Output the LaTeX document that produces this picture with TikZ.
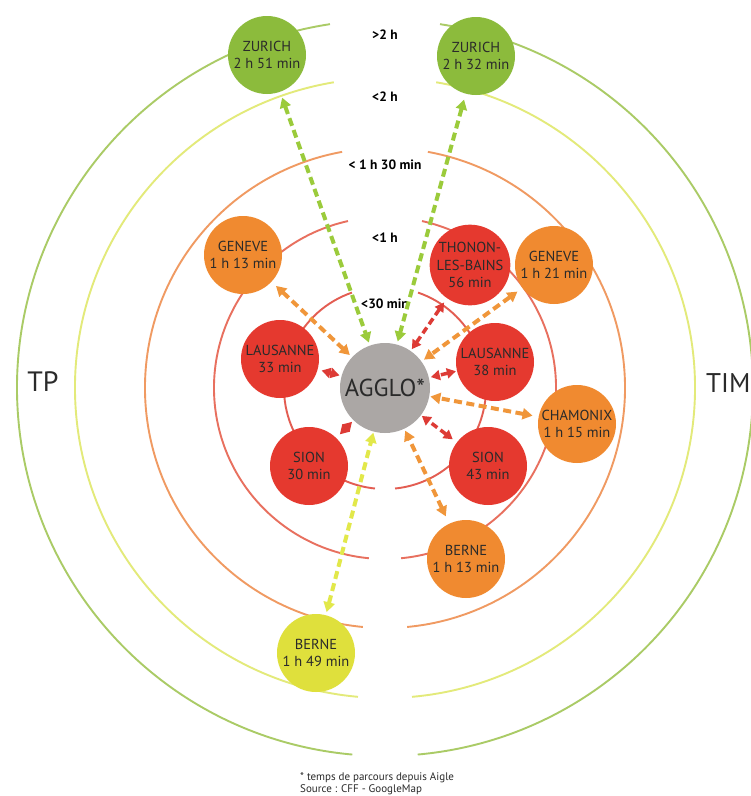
\documentclass[tikz,border=0pt]{standalone}
\usepackage{fontspec}
\setmainfont{PT Sans}
\usetikzlibrary{arrows.meta}
\definecolor{cRed}{HTML}{E5392F}
\definecolor{cOrange}{HTML}{F08A30}
\definecolor{cGreen}{HTML}{8CBB3C}
\definecolor{cYellow}{HTML}{DFE03C}
\definecolor{cGray}{HTML}{ABA7A5}
\definecolor{rOne}{HTML}{E35D52}
\definecolor{rTwo}{HTML}{E8705F}
\definecolor{rThree}{HTML}{F09A62}
\definecolor{rFour}{HTML}{E3EA7A}
\definecolor{rFive}{HTML}{AACB66}
\definecolor{aGreen}{HTML}{9BCB3B}
\definecolor{aOrange}{HTML}{F0963A}
\definecolor{aRed}{HTML}{DD3B35}
\definecolor{aYellow}{HTML}{E2E84A}
\definecolor{txt}{HTML}{2A2A2A}
\newcommand\myring[4]{%
  \draw[ringline,#1,shift={(385,388)}] ({270-#3}:#2) arc[start angle=270-#3, end angle=90+#4, radius=#2];
  \draw[ringline,#1,shift={(385,388)}] ({-90+#3}:#2) arc[start angle=-90+#3, end angle=90-#4, radius=#2];
}
\tikzset{
  ringline/.style={line width=1.9pt},
  city/.style={circle, minimum size=78pt, inner sep=0pt, align=center,
    font=\fontsize{14.5}{17.5}\selectfont, text=txt},
  rng/.style={font=\bfseries\fontsize{13.5}{15}\selectfont, text=black},
  conn/.style={line width=4pt, dash pattern=on 8pt off 4.5pt,
    {Triangle[length=10pt,width=11pt]}-{Triangle[length=10pt,width=11pt]},
    shorten <=6pt, shorten >=3pt},
  rconn/.style={line width=3.5pt, dash pattern=on 7pt off 4pt,
    {Triangle[length=9pt,width=10pt]}-{Triangle[length=9pt,width=10pt]},
    shorten <=4pt, shorten >=2pt}
}
\begin{document}
\begin{tikzpicture}[x=1pt,y=-1pt]
\useasboundingbox (0,0) rectangle (751,796);
\fill[white] (0,0) rectangle (751,796);
% rings
\myring{rFive}{368}{8.6}{5.1}
\myring{rFour}{310}{9.5}{5.0}
\myring{rThree}{240}{10.3}{5.3}
\myring{rTwo}{171}{12.5}{5.4}
\myring{rOne}{101}{19.1}{5.7}
% range labels
\node[rng] (g5) at (385,35) {>2 h};
\node[rng] (g4) at (385,97) {<2 h};
\node[rng] (g3) at (385,165) {< 1 h 30 min};
\node[rng] (g2) at (385,238) {<1 h};
\node[rng] (g1) at (385,304) {<30 min};
% nodes
\node[circle, minimum size=90pt, inner sep=0pt, fill=cGray, text=txt,
  font=\fontsize{24.5}{27}\selectfont] (agglo) at (385,388) {AGGLO*};
\node[city, fill=cGreen] (zurL) at (267,55) {ZURICH\\2 h 51 min};
\node[city, fill=cGreen] (zurR) at (476,56) {ZURICH\\2 h 32 min};
\node[city, fill=cOrange] (genL) at (243,255) {GENEVE\\1 h 13 min};
\node[city, fill=cRed] (thon) at (470,265) {THONON-\\LES-BAINS\\56 min};
\node[city, fill=cOrange] (genR) at (554,265) {GENEVE\\1 h 21 min};
\node[city, fill=cRed] (lauL) at (280,359) {LAUSANNE\\33 min};
\node[city, fill=cRed] (lauR) at (495,362) {LAUSANNE\\38 min};
\node[city, fill=cOrange] (cham) at (577,424) {CHAMONIX\\1 h 15 min};
\node[city, fill=cRed] (sionL) at (309,466) {SION\\30 min};
\node[city, fill=cRed] (sionR) at (488,466) {SION\\43 min};
\node[city, fill=cOrange] (berO) at (466,559) {BERNE\\1 h 13 min};
\node[city, fill=cYellow] (berY) at (316,653) {BERNE\\1 h 49 min};
% connectors
\draw[conn, aGreen] (zurL) -- (agglo);
\draw[conn, aGreen] (zurR) -- (agglo);
\draw[conn, aYellow, shorten <=3pt, shorten >=1pt] (berY) -- (agglo);
\draw[conn, aOrange] (genL) -- (agglo);
\draw[conn, aOrange] (genR) -- (agglo);
\draw[conn, aOrange, shorten >=1pt] (cham) -- (agglo);
\draw[conn, aOrange, shorten <=8pt, shorten >=2pt] (berO) -- (agglo);
\draw[rconn, aRed, shorten <=5pt] (thon) -- (agglo);
\draw[rconn, aRed] (lauL) -- (agglo);
\draw[rconn, aRed, shorten <=1pt] (lauR) -- (agglo);
\draw[rconn, aRed, shorten <=5pt] (sionL) -- (agglo);
\draw[rconn, aRed, shorten <=5pt, shorten >=1pt] (sionR) -- (agglo);
% side labels
\node[font=\fontsize{28}{30}\selectfont, text=txt] (tp) at (43,382) {TP};
\node[anchor=west, inner sep=0pt, font=\fontsize{27}{30}\selectfont, text=txt] (tim) at (706,383) {TIM};
% footnote
\node[anchor=base west, inner sep=0pt, font=\fontsize{11}{13}\selectfont, text=txt] (fn1) at (300,780) {* temps de parcours depuis Aigle};
\node[anchor=base west, inner sep=0pt, font=\fontsize{11}{13}\selectfont, text=txt] (fn2) at (300,792) {Source : CFF - GoogleMap};
\end{tikzpicture}
\end{document}
